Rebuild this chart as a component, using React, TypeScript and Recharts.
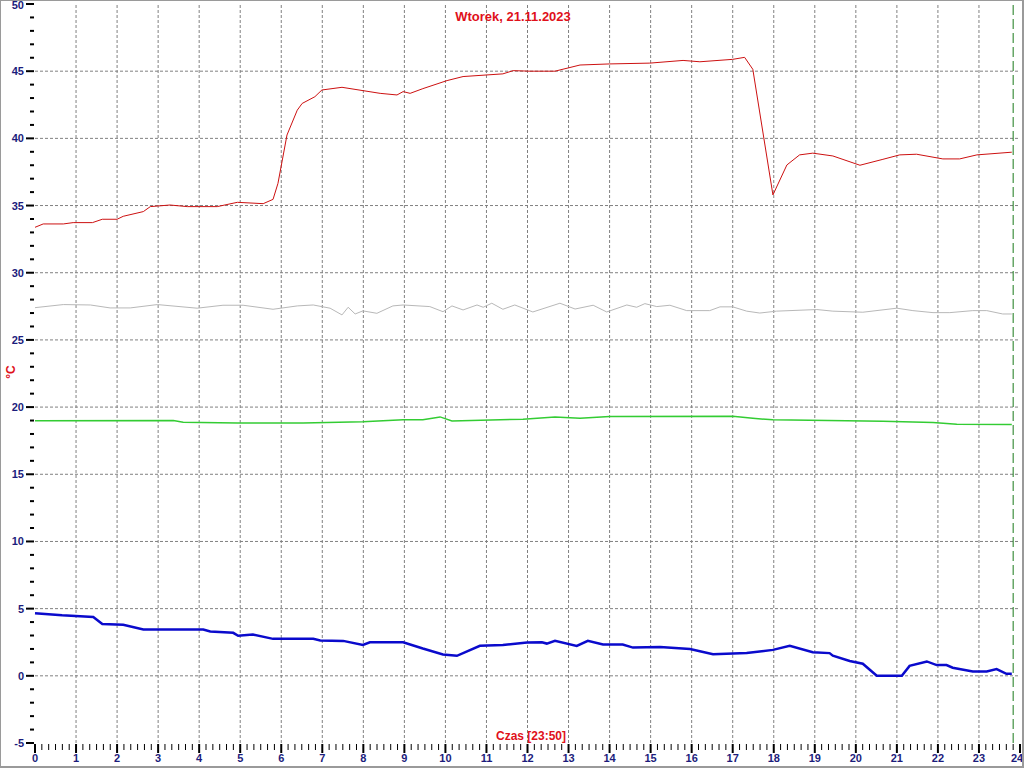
import React from "react";
import { LineChart, Line, XAxis, YAxis, ReferenceLine } from "recharts";

// [hour, °C] readings per sensor
const redSeries = [
  [0, 33.38], [0.2, 33.63], [0.69, 33.63], [0.93, 33.73], [1.4, 33.73], [1.64, 33.98],
  [2.0, 33.98], [2.15, 34.2], [2.64, 34.55], [2.81, 34.92], [3.29, 35.04], [3.71, 34.92],
  [4.44, 34.92], [4.93, 35.24], [5.56, 35.14], [5.8, 35.46], [5.92, 36.65], [6.14, 40.25],
  [6.39, 42.1], [6.51, 42.6], [6.82, 43.1], [6.99, 43.6], [7.48, 43.8], [8.41, 43.35],
  [8.82, 43.23], [8.97, 43.48], [9.14, 43.35], [9.45, 43.7], [10.04, 44.3], [10.43, 44.6],
  [11.4, 44.8], [11.65, 45.04], [12.06, 45.0], [12.67, 45.0], [13.28, 45.46], [14.0, 45.54],
  [14.98, 45.6], [15.79, 45.8], [16.2, 45.7], [17.0, 45.88], [17.29, 46.03], [17.49, 45.14],
  [17.98, 35.79], [18.32, 38.02], [18.63, 38.77], [18.95, 38.9], [19.44, 38.69], [20.1, 38.0],
  [20.66, 38.44], [21.07, 38.77], [21.48, 38.82], [22.12, 38.47], [22.53, 38.47], [22.95, 38.77],
  [23.8, 38.97],
];

const graySeries = [
  [0, 27.4], [0.69, 27.63], [1.35, 27.6], [1.83, 27.38], [2.32, 27.38], [2.98, 27.63],
  [3.95, 27.36], [4.58, 27.58], [5.07, 27.58], [5.8, 27.28], [6.39, 27.53], [6.78, 27.6],
  [7.19, 27.36], [7.48, 26.86], [7.63, 27.43], [7.8, 26.93], [7.99, 27.16], [8.33, 26.98],
  [8.72, 27.53], [8.97, 27.6], [9.62, 27.48], [9.94, 27.1], [10.16, 27.53], [10.43, 27.23],
  [10.77, 27.6], [10.92, 27.43], [11.13, 27.73], [11.4, 27.28], [11.69, 27.6], [12.13, 27.08],
  [12.79, 27.73], [13.16, 27.3], [13.6, 27.58], [13.93, 27.08], [14.42, 27.6], [14.66, 27.43],
  [14.86, 27.7], [15.15, 27.48], [15.47, 27.58], [15.88, 27.18], [16.44, 27.18], [16.69, 27.46],
  [17.0, 27.46], [17.34, 27.14], [17.66, 27.0], [18.07, 27.14], [19.05, 27.26], [19.44, 27.14],
  [20.17, 27.06], [21.0, 27.36], [21.39, 27.18], [21.88, 27.03], [22.29, 27.03], [22.85, 27.18],
  [23.19, 27.18], [23.58, 26.93], [23.8, 26.93],
];

const greenSeries = [
  [0, 18.99], [3.37, 19.0], [3.61, 18.87], [4.93, 18.82], [6.53, 18.82], [7.99, 18.9],
  [8.97, 19.05], [9.45, 19.05], [9.87, 19.27], [10.16, 18.97], [11.89, 19.1], [12.67, 19.27],
  [13.28, 19.17], [14.0, 19.3], [17.0, 19.32], [17.49, 19.17], [17.98, 19.05], [20.66, 18.95],
  [21.88, 18.85], [22.46, 18.73], [23.8, 18.7],
];

const blueSeries = [
  [0, 4.66], [0.66, 4.5], [1.42, 4.37], [1.64, 3.85], [2.15, 3.8], [2.64, 3.45], [4.1, 3.45],
  [4.27, 3.3], [4.83, 3.2], [4.95, 2.98], [5.31, 3.07], [5.8, 2.75], [6.78, 2.75], [6.95, 2.63],
  [7.51, 2.6], [7.99, 2.3], [8.16, 2.5], [8.97, 2.5], [9.45, 2.03], [9.94, 1.59], [10.28, 1.49],
  [10.84, 2.23], [11.4, 2.3], [11.99, 2.48], [12.35, 2.5], [12.47, 2.4], [12.67, 2.6], [13.2, 2.23],
  [13.47, 2.6], [13.84, 2.33], [14.32, 2.33], [14.57, 2.1], [15.23, 2.15], [15.96, 2.0],
  [16.52, 1.6], [17.34, 1.7], [17.98, 1.93], [18.39, 2.23], [18.95, 1.76], [19.36, 1.69],
  [19.44, 1.5], [19.85, 1.1], [20.17, 0.9], [20.51, 0], [21.12, 0], [21.31, 0.74], [21.73, 1.07],
  [21.97, 0.8], [22.21, 0.8], [22.36, 0.6], [22.85, 0.32], [23.19, 0.32], [23.43, 0.5],
  [23.67, 0.15], [23.8, 0.15],
];

const nowHour = 23 + 50 / 60;
const xTicks = Array.from({ length: 145 }, (_, i) => i / 6);
const yTicks = Array.from({ length: 56 }, (_, i) => i - 5);
const gridHours = Array.from({ length: 23 }, (_, i) => i + 1);
const gridTemps = [0, 5, 10, 15, 20, 25, 30, 35, 40, 45];

const toPoints = (s: number[][]) => s.map(([t, v]) => ({ t, v }));

const FONT = "'Liberation Sans', Arial, sans-serif";
const NAVY = "#1c1c7c";
const RED = "#e0101a";

const XTick = (props: any) => {
  const { x, y, payload } = props;
  const v = payload.value;
  const major = Math.abs(v - Math.round(v)) < 1e-6;
  const h = Math.round(v);
  return (
    <g>
      <line x1={x} x2={x} y1={y + 1} y2={y + (major ? 10 : 7)} stroke="#000" strokeWidth={major ? 2 : 1} />
      {major && (
        <text x={h === 24 ? x - 3 : x} y={y + 19} textAnchor="middle" fill={NAVY} fontSize={11} fontWeight="bold" fontFamily={FONT}>
          {h}
        </text>
      )}
    </g>
  );
};

const YTick = (props: any) => {
  const { x, y, payload } = props;
  const v = payload.value;
  const major = v % 5 === 0;
  return (
    <g>
      <line x1={x - (major ? 9 : 5)} x2={x - 1} y1={y} y2={y} stroke="#000" strokeWidth={2} />
      {major && (
        <text x={x - 11} y={v === 50 ? y + 5 : y + 4} textAnchor="end" fill={NAVY} fontSize={11} fontWeight="bold" fontFamily={FONT}>
          {v}
        </text>
      )}
    </g>
  );
};

export default function App() {
  return (
    <div style={{ position: "absolute", left: 0, top: 0, width: 1024, height: 768, background: "#fff" }}>
      <LineChart width={1024} height={768} margin={{ top: 4, right: 4, bottom: 0, left: 0 }}>
        <XAxis
          dataKey="t"
          type="number"
          domain={[0, 24]}
          ticks={xTicks}
          interval={0}
          height={25}
          axisLine={false}
          tickLine={false}
          tickSize={0}
          tickMargin={0}
          tick={<XTick />}
          allowDuplicatedCategory={false}
        />
        <YAxis
          type="number"
          domain={[-5, 50]}
          ticks={yTicks}
          interval={0}
          width={35}
          axisLine={false}
          tickLine={false}
          tickSize={0}
          tickMargin={0}
          tick={<YTick />}
          allowDataOverflow
        />
        {gridHours.map((h) => (
          <ReferenceLine key={"gx" + h} x={h} stroke="#808080" strokeDasharray="3 2" />
        ))}
        {gridTemps.map((v) => (
          <ReferenceLine key={"gy" + v} y={v} stroke="#808080" strokeDasharray="3 2" />
        ))}
        <ReferenceLine x={nowHour} stroke="#1a7a1a" strokeDasharray="10 4" />
        <Line data={toPoints(graySeries)} dataKey="v" stroke="#b8b8b8" strokeWidth={1} dot={false} isAnimationActive={false} />
        <Line data={toPoints(greenSeries)} dataKey="v" stroke="#33cc33" strokeWidth={1.5} dot={false} isAnimationActive={false} />
        <Line data={toPoints(redSeries)} dataKey="v" stroke="#cc1010" strokeWidth={1} dot={false} isAnimationActive={false} />
        <Line data={toPoints(blueSeries)} dataKey="v" stroke="#0a0acc" strokeWidth={2.5} dot={false} isAnimationActive={false} />
      </LineChart>
      <div style={{ position: "absolute", left: 0, top: 9, width: 1026, textAlign: "center", color: RED, fontFamily: FONT, fontWeight: "bold", fontSize: 13 }}>
        Wtorek, 21.11.2023
      </div>
      <div style={{ position: "absolute", left: 531 - 60, top: 729, width: 120, textAlign: "center", color: RED, fontFamily: FONT, fontWeight: "bold", fontSize: 12 }}>
        Czas [23:50]
      </div>
      <div style={{ position: "absolute", left: 11 - 20, top: 372 - 8, width: 40, height: 16, lineHeight: "16px", textAlign: "center", color: RED, fontFamily: FONT, fontWeight: "bold", fontSize: 12, transform: "rotate(-90deg)" }}>
        °C
      </div>
      <div style={{ position: "absolute", left: 0, top: 0, width: 1024, height: 768, boxSizing: "border-box", borderTop: "1px solid #9a9a9a", borderLeft: "1px solid #9a9a9a", borderRight: "2px solid #9a9a9a", borderBottom: "2px solid #9a9a9a", pointerEvents: "none" }} />
    </div>
  );
}
